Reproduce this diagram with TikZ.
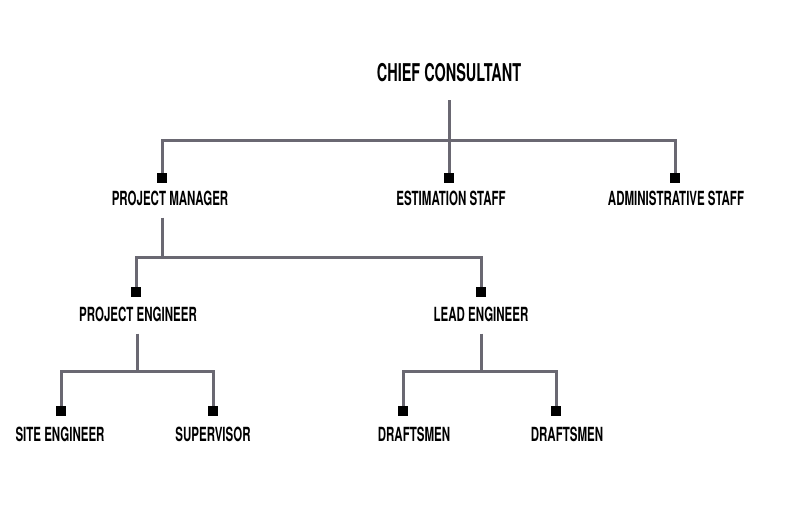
\documentclass[tikz,border=0pt]{standalone}
\usepackage{fontspec}
\setmainfont{TeX Gyre Heros}[FakeStretch=0.59]
\usetikzlibrary{
	positioning
}
\definecolor{linegray}{RGB}{106,104,114}

\begin{document}
\begin{tikzpicture}[
	x=1pt, y=1pt,
	node distance = 10pt and 0pt,
	box/.style = {
		rectangle, fill=black, inner sep=0pt,
		minimum size=10pt
	},
	role/.style = {
		inner sep=0pt, text height=14pt, text depth=0pt,
		font=\fontsize{19.5}{20}\selectfont\bfseries
	},
	link/.style = {draw=linegray, line width=3pt}
]
	\useasboundingbox (0,0) rectangle (800,511);

	\node (chief) [role, text height=18pt, font=\fontsize{24.5}{26}\selectfont\bfseries] at (449,438) {CHIEF CONSULTANT};

	\node (pm) [box] at (162,333) {};
		\node (pmL) [role, below=8pt of pm, xshift=8pt] {PROJECT MANAGER};
	\node (est) [box] at (449,333) {};
		\node (estL) [role, below=8pt of est, xshift=2pt] {ESTIMATION STAFF};
	\node (adm) [box] at (675,333) {};
		\node (admL) [role, below=8pt of adm, xshift=1pt] {ADMINISTRATIVE STAFF};

	\node (pe) [box] at (136,219) {};
		\node (peL) [role, below=of pe, xshift=2pt] {PROJECT ENGINEER};
	\node (le) [box] at (481,219) {};
		\node (leL) [role, below=of le] {LEAD ENGINEER};

	\node (se) [box] at (61,100) {};
		\node (seL) [role, below=11pt of se, xshift=-1pt] {SITE ENGINEER};
	\node (sup) [box] at (213,100) {};
		\node (supL) [role, below=11pt of sup] {SUPERVISOR};
	\node (d1) [box] at (403,100) {};
		\node (d1L) [role, below=11pt of d1, xshift=11pt] {DRAFTSMEN};
	\node (d2) [box] at (556,100) {};
		\node (d2L) [role, below=11pt of d2, xshift=11pt] {DRAFTSMEN};

	% level 1
	\path (chief.south) ++(0,-18) coordinate (chiefD);
	\coordinate (j1) at (chief |- 0,370);
	\draw [link] (chiefD) -- (est);
	\draw [link] (pm) |- (j1) -| (adm);

	% level 2
	\path (pm |- pmL.south) ++(0,-12) coordinate (pmD);
	\draw [link] (pmD) -- ++(0,-40) coordinate (j2);
	\draw [link] (pe) |- (j2) -| (le);

	% level 3
	\path (peL.south) ++(-1,-12) coordinate (peD);
	\draw [link] (peD) -- ++(0,-38) coordinate (j3);
	\draw [link] (se) |- (j3) -| (sup);

	\path (le |- leL.south) ++(0,-12) coordinate (leD);
	\draw [link] (leD) -- ++(0,-38) coordinate (j4);
	\draw [link] (d1) |- (j4) -| (d2);
\end{tikzpicture}
\end{document}
